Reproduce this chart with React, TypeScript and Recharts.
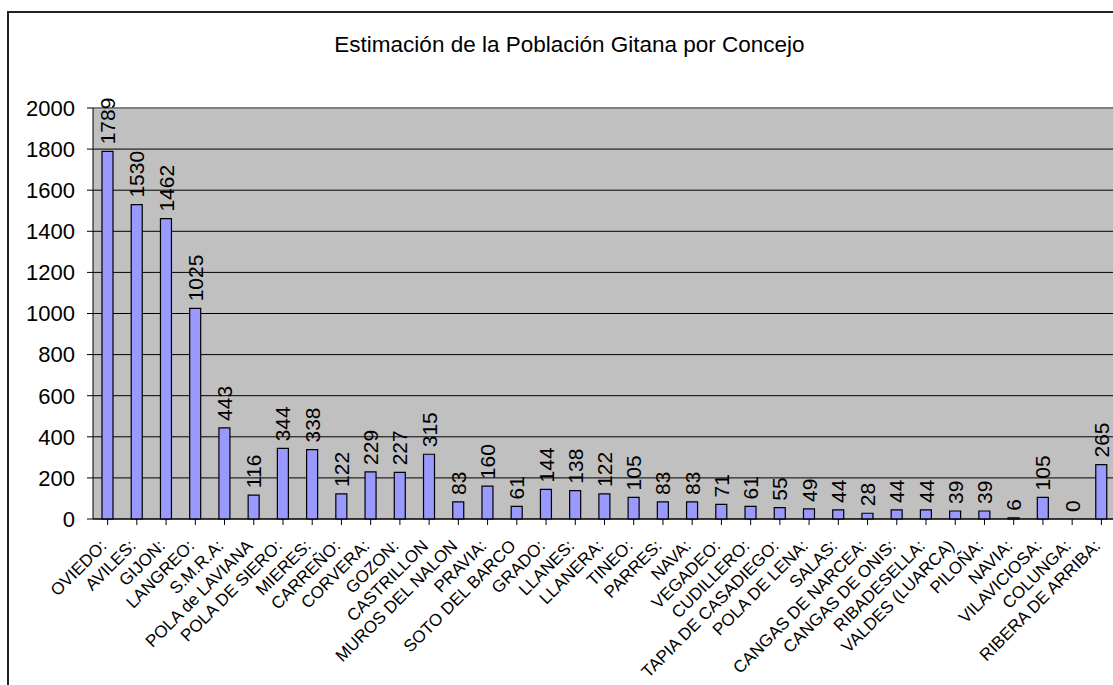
import { Bar, CartesianGrid, ComposedChart, LabelList, Line, ReferenceLine, XAxis, YAxis } from "recharts"

// Concejos y población gitana estimada
const concejos = [
  "OVIEDO:",
  "AVILES:",
  "GIJON:",
  "LANGREO:",
  "S.M.R.A:",
  "POLA de LAVIANA",
  "POLA DE SIERO:",
  "MIERES:",
  "CARREÑO:",
  "CORVERA:",
  "GOZON:",
  "CASTRILLON",
  "MUROS DEL NALON",
  "PRAVIA:",
  "SOTO DEL BARCO",
  "GRADO:",
  "LLANES:",
  "LLANERA:",
  "TINEO:",
  "PARRES:",
  "NAVA:",
  "VEGADEO:",
  "CUDILLERO:",
  "TAPIA DE CASADIEGO:",
  "POLA DE LENA:",
  "SALAS:",
  "CANGAS DE NARCEA:",
  "CANGAS DE ONIS:",
  "RIBADESELLA:",
  "VALDES (LUARCA)",
  "PILOÑA:",
  "NAVIA:",
  "VILAVICIOSA:",
  "COLUNGA:",
  "RIBERA DE ARRIBA:",
]

const poblacion = [
  1789, 1530, 1462, 1025, 443, 116, 344, 338, 122, 229, 227, 315, 83, 160, 61, 144, 138, 122, 105, 83, 83, 71, 61,
  55, 49, 44, 28, 44, 44, 39, 39, 6, 105, 0, 265,
]

const yTicks = [0, 200, 400, 600, 800, 1000, 1200, 1400, 1600, 1800, 2000]

const titulo = "Estimación de la Población Gitana por Concejo"

const data = concejos.map((name, i) => ({ name, value: poblacion[i] }))

const FONT = "'Liberation Sans', Arial, sans-serif"

function XTick(props: any) {
  const { x, y, payload } = props
  return (
    <text
      x={x}
      y={y + 22}
      transform={`rotate(-45, ${x}, ${y + 22})`}
      textAnchor="end"
      fontSize={17}
      fontFamily={FONT}
      fill="#000"
    >
      {payload.value}
    </text>
  )
}

// etiqueta vertical encima de cada barra (también para el valor 0)
function ValueLabel(props: any) {
  const { x, y, value } = props
  const cy = y - 7
  return (
    <text
      x={x}
      y={cy}
      transform={`rotate(-90, ${x}, ${cy})`}
      textAnchor="start"
      dominantBaseline="central"
      fontSize={21}
      fontFamily={FONT}
      fill="#000"
    >
      {value}
    </text>
  )
}

export default function App() {
  return (
    <div
      style={{
        position: "absolute",
        left: 0,
        top: 0,
        width: 1113,
        height: 685,
        overflow: "hidden",
        background: "#fff",
        fontFamily: FONT,
      }}
    >
      <div
        style={{
          position: "absolute",
          left: 7,
          top: 11,
          width: 1200,
          height: 800,
          borderLeft: "2px solid #222",
          borderTop: "2px solid #222",
        }}
      />
      <div
        style={{
          position: "absolute",
          left: 0,
          top: 34,
          width: 1139,
          textAlign: "center",
          fontSize: 22.5,
          lineHeight: 1,
          color: "#000",
        }}
      >
        {titulo}
      </div>
      <div style={{ position: "absolute", left: 0, top: 0 }}>
        <ComposedChart
          width={1116}
          height={685}
          data={data}
          margin={{ top: 108, right: 0, bottom: 0, left: 0 }}
          barSize={11}
        >
          <CartesianGrid fill="#C0C0C0" vertical={false} stroke="#000" strokeOpacity={1} />
          <XAxis
            dataKey="name"
            interval={0}
            height={166}
            tick={<XTick />}
            tickSize={6}
            tickMargin={0}
            axisLine={{ stroke: "#000" }}
            tickLine={{ stroke: "#000" }}
          />
          <YAxis
            width={93}
            domain={[0, 2000]}
            ticks={yTicks}
            interval={0}
            tickSize={6}
            tickMargin={12}
            tick={{ fontSize: 22, fill: "#000", fontFamily: FONT }}
            axisLine={{ stroke: "#000" }}
            tickLine={{ stroke: "#000" }}
          />
          <ReferenceLine y={2000} stroke="#808080" strokeWidth={2} />
          <Bar dataKey="value" fill="#9999FF" stroke="#000" strokeWidth={1.2} isAnimationActive={false} />
          <Line
            dataKey="value"
            stroke="none"
            dot={false}
            activeDot={false}
            legendType="none"
            isAnimationActive={false}
          >
            <LabelList dataKey="value" content={<ValueLabel />} />
          </Line>
        </ComposedChart>
      </div>
    </div>
  )
}
